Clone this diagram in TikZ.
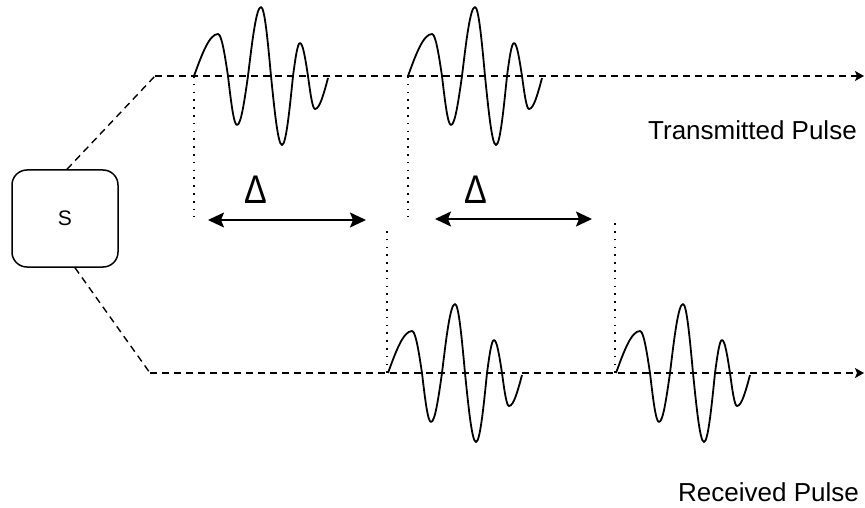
\documentclass[tikz,border=0pt]{standalone}
\usepackage{fontspec}
\setmainfont{Liberation Sans}
\usetikzlibrary{arrows.meta}
\tikzset{
 dashline/.style={line width=1.4pt, dash pattern=on 7pt off 5pt},
 dotline/.style={line width=1.7pt, dash pattern=on 1.7pt off 6.1pt},
 wave/.style={line width=1.8pt, line join=round},
 span/.style={line width=1.7pt, {Stealth[length=16pt,width=15pt,inset=3pt]}-{Stealth[length=16pt,width=15pt,inset=3pt]}},
 lbl/.style={font=\fontsize{26}{26}\selectfont, inner sep=0pt, anchor=base west},
 dlbl/.style={font=\fontsize{40}{40}\selectfont, inner sep=0pt, xscale=0.85},
 srcbox/.style={draw, rounded corners=15pt, line width=1.5pt, minimum width=106pt, minimum height=97pt, font=\fontsize{21}{21}\selectfont},
 pulse/.pic={\draw[wave] (0,0) sin (24,-42) cos (34,0) sin (43,49) cos (54,0) sin (67,-69) cos (77,0) sin (88,69) cos (99,0) sin (106,-33) cos (114,0) sin (121,33) cos (134,2);}
}
\begin{document}
\begin{tikzpicture}[x=1pt,y=-1pt]
\useasboundingbox (0,0) rectangle (865,508);
% source box
\node[srcbox] (s) at (65,218.5) {S};
% main lines
\coordinate (tl) at (155,76);
\coordinate (tr) at (864,76);
\coordinate (bl) at (150,373);
\coordinate (br) at (864,373);
\draw[dashline] ([xshift=2pt]s.north) -- (tl);
\draw[dashline] ([xshift=10pt]s.south) -- (bl);
\draw[dashline, -{Stealth[length=9pt,width=10pt,inset=2pt]}] (tl) -- (tr);
\draw[dashline, -{Stealth[length=9pt,width=10pt,inset=2pt]}] (bl) -- (br);
% pulses
\pic at (194,76) {pulse};
\pic at (408,76) {pulse};
\pic at (388,373) {pulse};
\pic at (616,373) {pulse};
% dotted markers
\coordinate (p1) at (194,76);  \coordinate (p1e) at (194,217);
\coordinate (p2) at (408,76);  \coordinate (p2e) at (408,217);
\coordinate (q1) at (387,373); \coordinate (q1e) at (387,230);
\coordinate (q2) at (615,373); \coordinate (q2e) at (615,219);
\draw[dotline] (p1) -- (p1e);
\draw[dotline] (p2) -- (p2e);
\draw[dotline] (q1) -- (q1e);
\draw[dotline] (q2) -- (q2e);
% delays
\coordinate (a1) at (208,220); \coordinate (b1) at (366,220);
\coordinate (a2) at (435,219); \coordinate (b2) at (592,219);
\draw[span] (a1) -- (b1);
\draw[span] (a2) -- (b2);
\node[dlbl] (d1) at (256,190) {Δ};
\node[dlbl] (d2) at (475.5,189.5) {Δ};
% labels
\node[lbl] (tx) at (648,140) {Transmitted Pulse};
\node[lbl] (rx) at (678,501) {Received Pulse};
\end{tikzpicture}
\end{document}
